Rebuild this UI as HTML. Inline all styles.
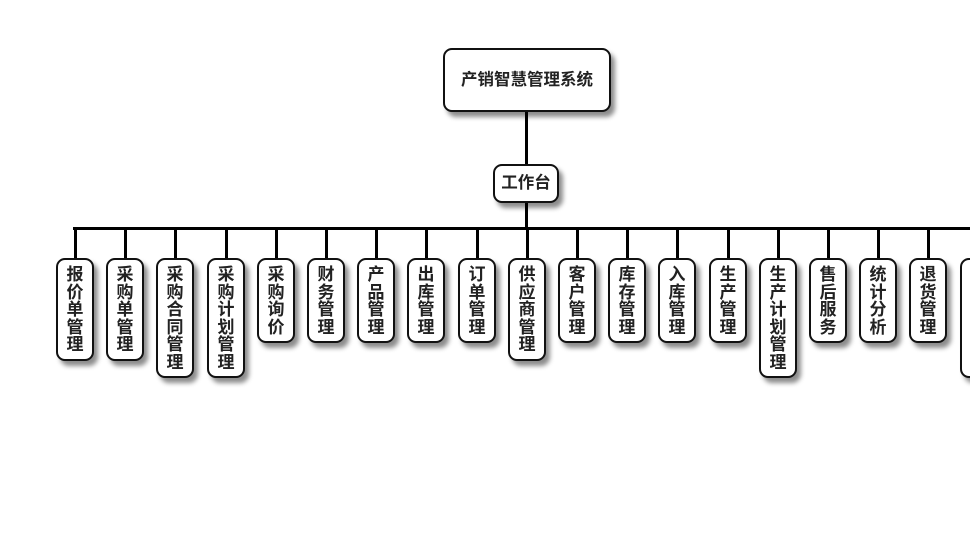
<!DOCTYPE html>
<html><head><meta charset="utf-8"><style>
body{margin:0;width:980px;height:560px;background:#fff;position:relative;overflow:hidden;font-family:"Liberation Sans","Noto Sans CJK SC",sans-serif;font-weight:bold;color:#222}
#w{position:absolute;left:0;top:0;width:970px;height:560px;overflow:hidden}
.b{position:absolute;background:#fff;border:2px solid #111;border-radius:9px;box-shadow:4px 5px 5px rgba(0,0,0,.45);box-sizing:border-box;text-align:center}
.v{width:38px;top:258px;font-size:17px;line-height:17.5px;padding-top:6px}
.v span{display:block;width:17px;margin:0 auto}
.l{position:absolute;background:#000}
</style></head><body><div id="w">
<div class="l" style="left:525px;top:110px;width:3px;height:56px"></div>
<div class="l" style="left:525px;top:200px;width:3px;height:30px"></div>
<div class="l" style="left:73px;top:227px;width:910px;height:3px"></div>
<div class="b" style="left:443px;top:48px;width:168px;height:64px;line-height:60px;font-size:16.5px">产销智慧管理系统</div>
<div class="b" style="left:493px;top:164px;width:66px;height:39px;line-height:35px;font-size:16.5px">工作台</div>
<div id="c"></div>
</div>
<script>
var L=["报价单管理","采购单管理","采购合同管理","采购计划管理","采购询价","财务管理","产品管理","出库管理","订单管理","供应商管理","客户管理","库存管理","入库管理","生产管理","生产计划管理","售后服务","统计分析","退货管理","　　　　　　"];
var h="";
for(var i=0;i<L.length;i++){var cx=Math.round(75+i*50.2);var n=L[i].length;
h+='<div class="l" style="left:'+(cx-1)+'px;top:228px;width:3px;height:31px"></div>';
h+='<div class="b v" style="left:'+(cx-19)+'px;height:'+Math.round(15+17.5*n)+'px">'+L[i].split("").map(function(c){return"<span>"+c+"</span>"}).join("")+'</div>';}
document.getElementById("c").innerHTML=h;
</script>
</body></html>
